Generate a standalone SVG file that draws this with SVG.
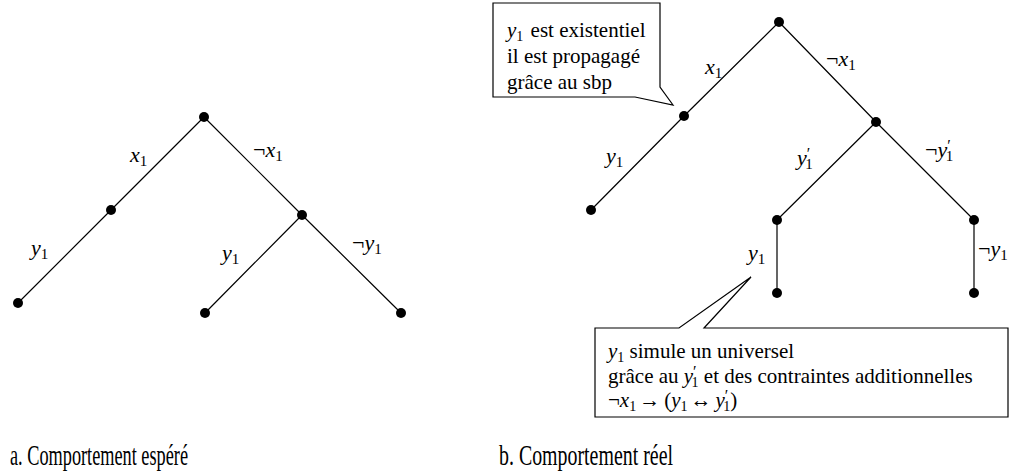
<svg xmlns="http://www.w3.org/2000/svg" width="1023" height="474" viewBox="0 0 1023 474">
<style>
.e{stroke:#000;stroke-width:1.2;fill:none}
.d{fill:#000}
text{font-family:"Liberation Serif","Times New Roman",Times,"DejaVu Serif",serif;fill:#000}
.m{font-size:22px}
.i{font-style:italic}
.s{font-size:15px}
.s2{font-size:14px}
.p{font-size:16px}
.t{font-size:21px}
.cap{font-size:29px}
.box{fill:#fff;stroke:#000;stroke-width:1.2}
</style>
<rect width="1023" height="474" fill="#fff"/>
<g id="connectors">
<path class="e" d="M204,117 L111,210 M111,210 L18,303 M204,117 L302,215 M302,215 L205,313 M302,215 L401,313"/>
<path class="e" d="M779,22 L684,116 M684,116 L591,210 M779,22 L876,122 M876,122 L777,220 M876,122 L974,220 M777,220 L777,293 M974,220 L974,293"/>
</g>
<g id="edge-labels">
<text class="m" x="130" y="162"><tspan class="i">x</tspan><tspan class="s" dy="4">1</tspan></text>
<text class="m" x="253" y="157">¬<tspan class="i">x</tspan><tspan class="s" dy="4">1</tspan></text>
<text class="m" x="31" y="255"><tspan class="i">y</tspan><tspan class="s" dy="4">1</tspan></text>
<text class="m" x="222" y="260"><tspan class="i">y</tspan><tspan class="s" dy="4">1</tspan></text>
<text class="m" x="352" y="250">¬<tspan class="i">y</tspan><tspan class="s" dy="4">1</tspan></text>
<text class="m" x="705" y="74"><tspan class="i">x</tspan><tspan class="s" dy="4">1</tspan></text>
<text class="m" x="826" y="66">¬<tspan class="i">x</tspan><tspan class="s" dy="4">1</tspan></text>
<text class="m" x="606" y="163"><tspan class="i">y</tspan><tspan class="s" dy="4">1</tspan></text>
<text class="m" x="797" y="165"><tspan class="i">y</tspan><tspan class="p" dy="-6">′</tspan><tspan class="s" dx="-5" dy="10">1</tspan></text>
<text class="m" x="925" y="157">¬<tspan class="i">y</tspan><tspan class="p" dy="-6">′</tspan><tspan class="s" dx="-5" dy="10">1</tspan></text>
<text class="m" x="748" y="260"><tspan class="i">y</tspan><tspan class="s" dy="4">1</tspan></text>
<text class="m" x="978" y="256">¬<tspan class="i">y</tspan><tspan class="s" dy="4">1</tspan></text>
</g>
<g id="n-a-root"><circle class="d" cx="204" cy="117" r="5"/></g>
<g id="n-a-l"><circle class="d" cx="111" cy="210" r="5"/></g>
<g id="n-a-ll"><circle class="d" cx="18" cy="303" r="5"/></g>
<g id="n-a-r"><circle class="d" cx="302" cy="215" r="5"/></g>
<g id="n-a-rl"><circle class="d" cx="205" cy="313" r="5"/></g>
<g id="n-a-rr"><circle class="d" cx="401" cy="313" r="5"/></g>
<g id="n-b-root"><circle class="d" cx="779" cy="22" r="5"/></g>
<g id="n-b-l"><circle class="d" cx="684" cy="116" r="5"/></g>
<g id="n-b-ll"><circle class="d" cx="591" cy="210" r="5"/></g>
<g id="n-b-r"><circle class="d" cx="876" cy="122" r="5"/></g>
<g id="n-b-rl"><circle class="d" cx="777" cy="220" r="5"/></g>
<g id="n-b-rr"><circle class="d" cx="974" cy="220" r="5"/></g>
<g id="n-b-rll"><circle class="d" cx="777" cy="293" r="5"/></g>
<g id="n-b-rrl"><circle class="d" cx="974" cy="293" r="5"/></g>
<g id="callout-1">
<path class="box" d="M493,3 H660 V87 L673,105 L635,97 H493 Z"/>
<text class="t" x="507" y="37"><tspan class="i">y</tspan><tspan class="s2" dy="4">1</tspan><tspan dy="-4" dx="2"> est existentiel</tspan></text>
<text class="t" x="507" y="63">il est propagagé</text>
<text class="t" x="507" y="89">grâce au sbp</text>
</g>
<g id="callout-2">
<path class="box" d="M595,328 H679 L751,277 L704,328 H1008 V417 H595 Z"/>
<text class="t" x="608" y="358"><tspan class="i">y</tspan><tspan class="s2" dy="4">1</tspan><tspan dy="-4"> simule un universel</tspan></text>
<text class="t" x="608" y="383">grâce au <tspan class="i">y</tspan><tspan class="p" dy="-6">′</tspan><tspan class="s2" dx="-5" dy="10">1</tspan><tspan dy="-4"> et des contraintes additionnelles</tspan></text>
<text class="t" x="608" y="407">¬<tspan class="i">x</tspan><tspan class="s2" dy="4">1</tspan><tspan dy="-4" dx="3">→</tspan><tspan dx="4">(</tspan><tspan class="i">y</tspan><tspan class="s2" dy="4">1</tspan><tspan dy="-4" dx="3">↔</tspan><tspan class="i" dx="4">y</tspan><tspan class="p" dy="-6">′</tspan><tspan class="s2" dx="-5" dy="10">1</tspan><tspan dy="-4">)</tspan></text>
</g>
<g id="captions">
<text class="cap" x="10" y="465" textLength="178" lengthAdjust="spacingAndGlyphs">a. Comportement espéré</text>
<text class="cap" x="499" y="465" textLength="174" lengthAdjust="spacingAndGlyphs">b. Comportement réel</text>
</g>
</svg>
